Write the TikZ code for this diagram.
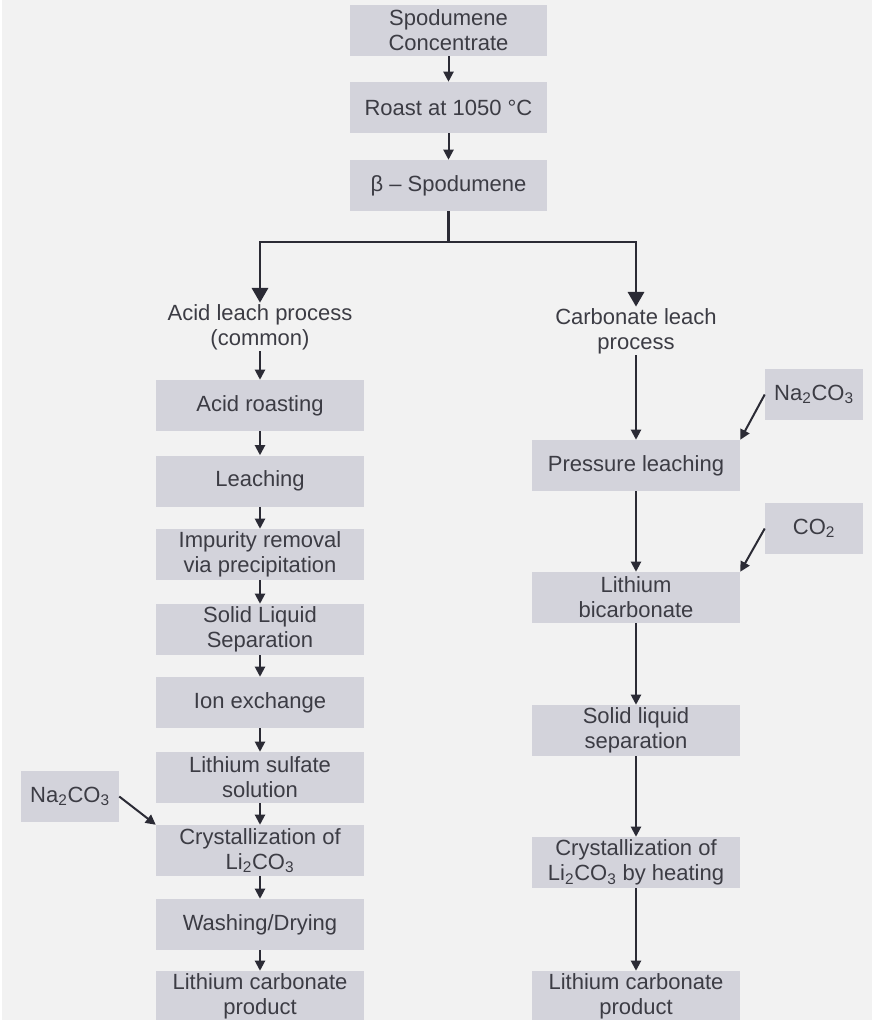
\documentclass[tikz,border=0pt]{standalone}
\usepackage{fontspec}
\setmainfont{Liberation Sans}
\usetikzlibrary{arrows.meta}

\definecolor{bggray}{HTML}{F2F2F2}
\definecolor{boxgray}{HTML}{D3D3DB}
\definecolor{txtgray}{HTML}{3C3C44}
\definecolor{linegray}{HTML}{2B2B35}

\tikzset{
  stepbox/.style={fill=boxgray, text=txtgray, align=center, inner sep=0pt,
    minimum width=156pt, minimum height=38.25pt,
    font=\fontsize{16.5}{18.75}\selectfont},
  topbox/.style={stepbox, minimum width=147.75pt},
  addbox/.style={stepbox, minimum width=73.5pt},
  proclabel/.style={text=txtgray, align=center, inner sep=1pt,
    font=\fontsize{16.5}{18.75}\selectfont},
  flow/.style={draw=linegray, line width=1.5pt, -{Triangle[width=7.5pt,length=7.5pt]}},
  branch/.style={draw=linegray, line width=2.2pt, -{Triangle[width=12pt,length=11pt]}},
}

\begin{document}
\begin{tikzpicture}[x=0.75pt,y=-0.75pt]

% Page and background
\useasboundingbox (0,0) rectangle (872,1020);
\fill[white] (0,0) rectangle (2,1020);
\fill[bggray] (2,0) rectangle (872,1020);

% Top boxes
\node[topbox] (conc) at (448.5,30.5) {Spodumene\\Concentrate};
\node[topbox] (roast) at (448.5,107.5) {Roast at 1050 °C};
\node[topbox] (beta) at (448.5,185.5) {β – Spodumene};

% Process labels
\node[proclabel] (acid) at (260,327) {Acid leach process\\(common)};
\node[proclabel] (carb) at (636,331) {Carbonate leach\\process};

% Acid leach column
\node[stepbox] (aroast) at (260,405.5) {Acid roasting};
\node[stepbox] (leach) at (260,481) {Leaching};
\node[stepbox] (impur) at (260,554.5) {Impurity removal\\via precipitation};
\node[stepbox] (slsep) at (260,629.5) {Solid Liquid\\Separation};
\node[stepbox] (ionex) at (260,702.5) {Ion exchange};
\node[stepbox] (sulf) at (260,777.5) {Lithium sulfate\\solution};
\node[stepbox] (cryst) at (260,850.5) {Crystallization of\\Li\textsubscript{2}CO\textsubscript{3}};
\node[stepbox] (wash) at (260,924.5) {Washing/Drying};
\node[stepbox] (aprod) at (260,996.5) {Lithium carbonate\\product};
\node[addbox] (naleft) at (70,796.5) {Na\textsubscript{2}CO\textsubscript{3}};

% Carbonate leach column
\node[stepbox] (press) at (636,465.5) {Pressure leaching};
\node[stepbox] (bicarb) at (636,597.5) {Lithium\\bicarbonate};
\node[stepbox] (csep) at (636,730.5) {Solid liquid\\separation};
\node[stepbox] (heat) at (636,862.5) {Crystallization of\\Li\textsubscript{2}CO\textsubscript{3} by heating};
\node[stepbox] (cprod) at (636,996.5) {Lithium carbonate\\product};
\node[addbox] (naright) at (814,394.5) {Na\textsubscript{2}CO\textsubscript{3}};
\node[addbox] (co2) at (814,528.5) {CO\textsubscript{2}};

% Arrows
\draw[flow] (conc) -- (roast);
\draw[flow] (roast) -- (beta);
\coordinate (split) at (448.5,242);
\draw[draw=linegray, line width=2.2pt] (beta.south) -- (split);
\draw[branch] (split) -| (acid.north);
\draw[branch] (split) -| (carb.north);

\foreach \a/\b in {acid/aroast, aroast/leach, leach/impur, impur/slsep, slsep/ionex,
                   ionex/sulf, sulf/cryst, cryst/wash, wash/aprod}
  \draw[flow] (\a) -- (\b);
\foreach \a/\b in {carb/press, press/bicarb, bicarb/csep, csep/heat, heat/cprod}
  \draw[flow] (\a) -- (\b);

\draw[flow] (naleft.east) -- (cryst.north west);
\draw[flow] (naright.west) -- (press.north east);
\draw[flow] (co2.west) -- (bicarb.north east);

\end{tikzpicture}
\end{document}
